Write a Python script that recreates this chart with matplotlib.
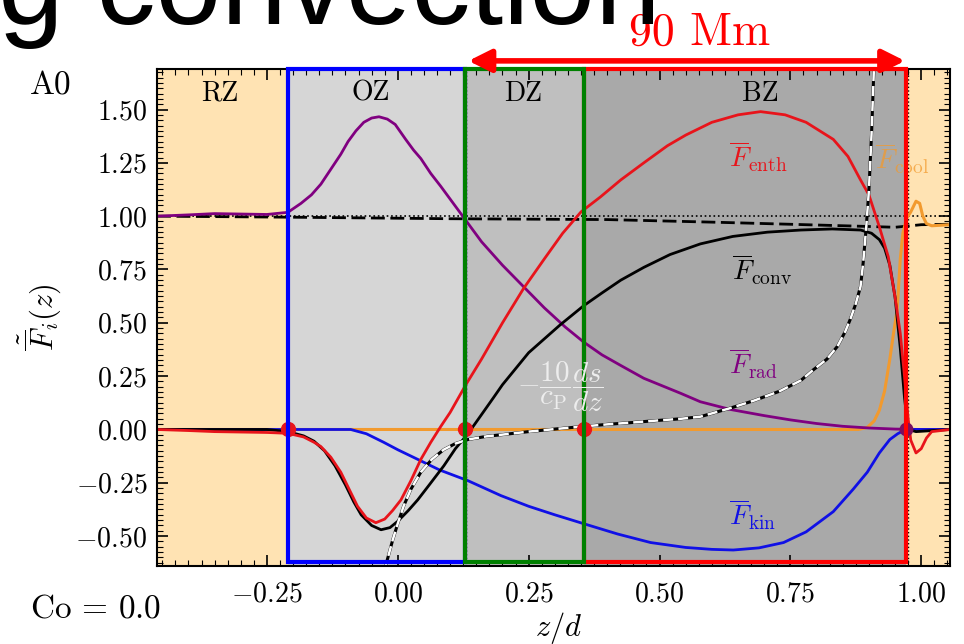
import matplotlib
matplotlib.use("Agg")
import matplotlib.pyplot as plt
from matplotlib.patches import Rectangle
from matplotlib.ticker import MultipleLocator, FuncFormatter

plt.rcParams['font.family'] = 'cmr10'
plt.rcParams['mathtext.fontset'] = 'cm'
plt.rcParams['axes.formatter.use_mathtext'] = True

# ---- flux profiles, normalised by the total flux ----
z_rad = [-0.46, -0.40, -0.35, -0.30, -0.25, -0.21, -0.185, -0.165, -0.147, -0.128,
         -0.109, -0.095, -0.08, -0.065, -0.05, -0.036, -0.02, -0.005, 0.015, 0.03,
         0.044, 0.063, 0.082, 0.10, 0.124, 0.16, 0.20, 0.24, 0.28, 0.32, 0.355,
         0.39, 0.426, 0.47, 0.51, 0.54, 0.578, 0.635, 0.70, 0.75, 0.80, 0.85,
         0.90, 0.95, 1.00, 1.055]
F_rad = [1.000, 1.006, 1.012, 1.010, 1.008, 1.018, 1.06, 1.10, 1.15, 1.22,
         1.29, 1.35, 1.40, 1.44, 1.46, 1.466, 1.455, 1.43, 1.36, 1.31,
         1.27, 1.20, 1.14, 1.08, 1.00, 0.88, 0.77, 0.67, 0.57, 0.48, 0.41,
         0.35, 0.30, 0.24, 0.20, 0.17, 0.13, 0.094, 0.065, 0.045, 0.028, 0.015,
         0.007, 0.002, 0.0, 0.0]

z_enth = [-0.46, -0.40, -0.35, -0.30, -0.25, -0.21, -0.18, -0.16, -0.147, -0.128,
          -0.109, -0.093, -0.077, -0.06, -0.042, -0.025, -0.01, 0.006, 0.025, 0.044,
          0.063, 0.082, 0.10, 0.115, 0.13, 0.16, 0.20, 0.24, 0.28, 0.315, 0.35,
          0.387, 0.426, 0.47, 0.515, 0.55, 0.60, 0.65, 0.693, 0.74, 0.78, 0.832,
          0.86, 0.884, 0.90, 0.92, 0.937, 0.95, 0.96, 0.968, 0.975, 0.98, 0.99,
          1.00, 1.01, 1.02, 1.055]
F_enth = [0.0, -0.005, -0.01, -0.012, -0.014, -0.018, -0.035, -0.06, -0.08, -0.13,
          -0.20, -0.28, -0.36, -0.415, -0.437, -0.42, -0.38, -0.33, -0.24, -0.14,
          -0.06, 0.014, 0.08, 0.145, 0.21, 0.33, 0.50, 0.66, 0.80, 0.92, 1.02,
          1.09, 1.17, 1.25, 1.33, 1.38, 1.44, 1.475, 1.49, 1.475, 1.44, 1.36,
          1.28, 1.17, 1.10, 0.95, 0.81, 0.62, 0.45, 0.25, 0.05, -0.05, -0.11,
          -0.09, -0.04, -0.01, 0.0]

z_conv = [-0.46, -0.25, -0.21, -0.18, -0.16, -0.14, -0.12, -0.10, -0.084, -0.07,
          -0.05, -0.032, -0.015, 0.0, 0.02, 0.038, 0.06, 0.088, 0.11, 0.134,
          0.16, 0.183, 0.20, 0.25, 0.31, 0.355, 0.39, 0.426, 0.47, 0.52, 0.578,
          0.64, 0.706, 0.77, 0.83, 0.884, 0.905, 0.92, 0.93, 0.94, 0.95, 0.96,
          0.968, 0.975, 0.99, 1.055]
F_conv = [0.0, 0.0, -0.01, -0.03, -0.055, -0.10, -0.17, -0.26, -0.34, -0.40,
          -0.45, -0.47, -0.46, -0.43, -0.38, -0.33, -0.26, -0.17, -0.09, -0.02,
          0.07, 0.15, 0.21, 0.36, 0.49, 0.58, 0.64, 0.70, 0.76, 0.82, 0.87,
          0.905, 0.925, 0.935, 0.94, 0.935, 0.92, 0.89, 0.85, 0.77, 0.62, 0.38,
          0.15, 0.0, -0.01, 0.0]

z_kin = [-0.46, -0.09, -0.06, -0.027, 0.0, 0.038, 0.08, 0.134, 0.197, 0.25,
         0.30, 0.353, 0.42, 0.483, 0.55, 0.60, 0.641, 0.69, 0.737, 0.78,
         0.832, 0.87, 0.897, 0.92, 0.94, 0.955, 0.97, 1.055]
F_kin = [0.0, 0.0, -0.02, -0.06, -0.095, -0.14, -0.19, -0.24, -0.31, -0.36,
         -0.40, -0.44, -0.49, -0.53, -0.553, -0.562, -0.565, -0.555, -0.53, -0.48,
         -0.385, -0.28, -0.20, -0.11, -0.047, -0.02, 0.0, 0.0]

z_cool = [-0.46, 0.88, 0.897, 0.91, 0.92, 0.93, 0.94, 0.947, 0.954, 0.96,
          0.965, 0.972, 0.98, 0.99, 0.997, 1.003, 1.01, 1.02, 1.055]
F_cool = [0.0, 0.0, 0.01, 0.04, 0.09, 0.18, 0.33, 0.45, 0.56, 0.80,
          0.92, 0.99, 1.02, 1.07, 1.06, 1.00, 0.965, 0.955, 0.96]

z_tot = [-0.46, -0.2, 0.1, 0.4, 0.6, 0.75, 0.88, 0.95, 0.98, 1.0, 1.055]
F_tot = [1.0, 0.995, 0.988, 0.984, 0.972, 0.962, 0.953, 0.948, 0.955, 0.96, 0.962]

z_grad = [-0.026, -0.02, -0.01, 0.0, 0.011, 0.025, 0.044, 0.065, 0.088, 0.11,
          0.134, 0.17, 0.2, 0.25, 0.3, 0.353, 0.40, 0.45, 0.50, 0.54,
          0.578, 0.635, 0.68, 0.73, 0.77, 0.794, 0.82, 0.84, 0.855, 0.865,
          0.875, 0.884, 0.889, 0.895, 0.90, 0.905, 0.91]
F_grad = [-0.66, -0.61, -0.52, -0.44, -0.36, -0.28, -0.20, -0.14, -0.094, -0.066,
          -0.047, -0.032, -0.024, -0.01, 0.002, 0.014, 0.024, 0.033, 0.043, 0.05,
          0.06, 0.10, 0.135, 0.18, 0.23, 0.28, 0.33, 0.39, 0.46, 0.52,
          0.59, 0.67, 0.78, 0.95, 1.12, 1.38, 1.72]

# zone boundaries (z/d) and zone names
zone_edges = [-0.46, -0.21, 0.128, 0.355, 0.971, 1.055]
zone_colors = ['#FFE3B3', '#D6D6D6', '#BFBFBF', '#A9A9A9', '#FFE3B3']
zone_names = ['RZ', 'OZ', 'DZ', 'BZ']
zone_label_z = [-0.34, -0.052, 0.24, 0.693]
crossings = [-0.21, 0.128, 0.355]

fig = plt.figure(figsize=(9.64, 6.44), dpi=100)
ax = fig.add_axes([0.1629, 0.1211, 0.8226, 0.7718])
ax.set_xlim(-0.46, 1.055)
ax.set_ylim(-0.64, 1.69)

for lo, hi, c in zip(zone_edges[:-1], zone_edges[1:], zone_colors):
    ax.axvspan(lo, hi, color=c, lw=0, zorder=0)
for name, zx in zip(zone_names, zone_label_z):
    ax.text(zx, 1.575, name, fontsize=20, ha='center', va='center', zorder=6)

for zb in [0.131, 0.974]:
    ax.axvline(zb, color='black', lw=1, ls=':', zorder=1)

ax.axhline(1.0, color='black', lw=1.2, ls=':', zorder=2)
ax.plot(z_tot, F_tot, color='black', lw=2, ls=(0, (5, 2)), zorder=3)
ax.plot(z_cool, F_cool, color='#F29A2E', lw=2.2, zorder=3)
ax.plot(z_rad, F_rad, color='#800080', lw=2, zorder=3)
ax.plot(z_kin, F_kin, color='#1010E6', lw=2, zorder=3)
ax.plot(z_conv, F_conv, color='black', lw=2, zorder=3)
ax.plot(z_enth, F_enth, color='#E8141B', lw=2, zorder=3)
ax.plot(z_grad, F_grad, color='black', lw=2.2, zorder=3)
ax.plot(z_grad, F_grad, color='white', lw=1.8, ls=(0, (4, 2)), zorder=3)

ax.plot(crossings, [0] * len(crossings), 'o', color='#E8141B', ms=10, zorder=4)
ax.plot([0.971], [0.0], 'o', color='#7A1060', ms=9, zorder=4)

# curve labels
ax.text(0.689, 1.28, r'$\overline{F}_{\rm enth}$', color='#E8141B', fontsize=20,
        ha='center', va='center', zorder=6)
ax.text(0.695, 0.75, r'$\overline{F}_{\rm conv}$', color='black', fontsize=20,
        ha='center', va='center', zorder=6)
ax.text(0.68, 0.31, r'$\overline{F}_{\rm rad}$', color='#800080', fontsize=20,
        ha='center', va='center', zorder=6)
ax.text(0.677, -0.40, r'$\overline{F}_{\rm kin}$', color='#1010E6', fontsize=20,
        ha='center', va='center', zorder=6)
ax.text(0.912, 1.27, r'$\overline{F}_{\rm cool}$', color='#F29A2E', alpha=0.75,
        fontsize=20, ha='left', va='center', zorder=2, clip_on=False)
ax.text(0.311, 0.20, r'$-\dfrac{10}{c_{\rm P}}\dfrac{ds}{dz}$', color='#EDEDED',
        fontsize=21, ha='center', va='center', zorder=6)

# outlined zones
box_bottom, box_top = -0.62, 1.69
for lo, hi, c in [(0.355, 0.971, '#FF0000'), (-0.21, 0.128, '#0000FF'), (0.128, 0.355, '#008000')]:
    ax.add_patch(Rectangle((lo, box_bottom), hi - lo, box_top - box_bottom, fill=False,
                           ec=c, lw=3, zorder=5, clip_on=False))

# extent of the convection zone
ax.annotate('', xy=(0.135, 1.728), xytext=(0.969, 1.728),
            arrowprops=dict(arrowstyle='<|-|>', color='#FF0000', lw=4, mutation_scale=34,
                            shrinkA=0, shrinkB=0),
            annotation_clip=False, zorder=7)
fig.text(700 / 964, 1 - 33 / 644, '90 Mm', color='#FF0000', fontsize=33,
         ha='center', va='center')

ax.xaxis.set_major_locator(MultipleLocator(0.25))
ax.xaxis.set_minor_locator(MultipleLocator(0.025))
ax.yaxis.set_major_locator(MultipleLocator(0.25))
ax.yaxis.set_minor_locator(MultipleLocator(0.025))
tick_fmt = FuncFormatter(lambda v, pos: r'$%.2f$' % v)
ax.xaxis.set_major_formatter(tick_fmt)
ax.yaxis.set_major_formatter(tick_fmt)
ax.tick_params(which='both', direction='in', top=True, right=True, labelsize=20)
ax.tick_params(which='major', length=8, width=1.2)
ax.tick_params(which='minor', length=4, width=0.8)
ax.tick_params(axis='x', pad=11)
ax.tick_params(axis='y', pad=7)
for s in ax.spines.values():
    s.set_linewidth(1.5)
    s.set_zorder(4)

ax.set_xlabel(r'$z/d$', fontsize=22)
ax.xaxis.set_label_coords(0.506, -0.088)
ax.set_ylabel(r'$\tilde{\overline{F}}_i(z)$', fontsize=22)
ax.yaxis.set_label_coords(-0.118, 0.5)

fig.text(51 / 964, 1 - 86 / 644, 'A0', fontsize=24, ha='center', va='center')
fig.text(96 / 964, 1 - 609 / 644, r'$\mathrm{Co}\,=\,0.0$', fontsize=24,
         ha='center', va='center')

# slide heading running off the top edge
fig.text(-0.002, 1 - 24 / 644, 'g convection', fontsize=85, family='Liberation Sans',
         ha='left', va='baseline')

fig.savefig('out.png', dpi=100)
